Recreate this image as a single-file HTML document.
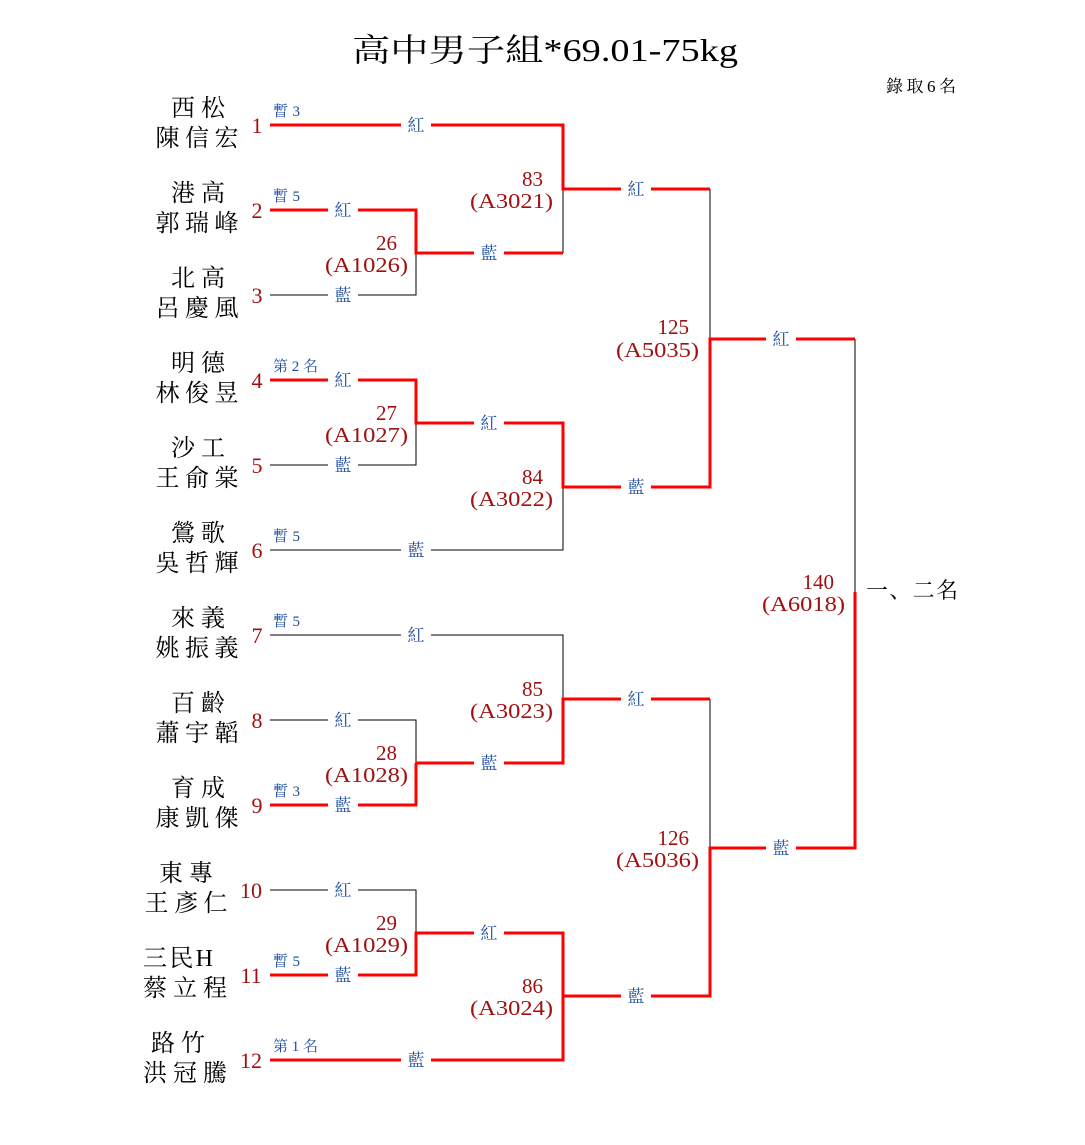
<!DOCTYPE html>
<html><head><meta charset="utf-8"><style>
html,body{margin:0;padding:0;background:#fff}
svg{display:block}
.t{font-family:"Liberation Serif","Noto Serif CJK SC",serif}
.nm{font-size:24px;fill:#000;text-anchor:middle}
.no{font-size:22px;fill:#a01010;text-anchor:middle}
.lb{font-size:17px;fill:#1a4aa0;text-anchor:middle}
.sm{font-size:15px;fill:#1a4aa0}
.mn{font-size:21px;fill:#a01010;text-anchor:end}
.r{stroke:#f00;stroke-width:3;fill:none}
.k{stroke:#000;stroke-width:1;fill:none}
</style></head><body>
<svg width="1085" height="1145" viewBox="0 0 1085 1145" xmlns="http://www.w3.org/2000/svg">
<text class="t" x="352" y="61" font-size="32" textLength="386" lengthAdjust="spacingAndGlyphs">高中男子組*69.01-75kg</text>
<text class="t" x="886" y="92" font-size="17" textLength="70">錄取6名</text>

<g class="k">
<path d="M270 295H416V253"/><path d="M270 465H416V423"/><path d="M270 550H563V487"/>
<path d="M563 189V253"/><path d="M710 189V339"/>
<path d="M270 635H563V699"/><path d="M270 720H416V763"/><path d="M270 890H416V933"/>
<path d="M710 699V848"/><path d="M855 339V592"/>
</g>
<g class="r">
<path d="M270 125H563V189H710"/>
<path d="M270 210H416V253H563"/>
<path d="M270 380H416V423H563V487H710V339H855"/>
<path d="M416 763H563V699H710"/>
<path d="M270 805H416V763"/>
<path d="M270 975H416V933H563V996H710V848H855V592"/>
<path d="M270 1060H563V996"/>
</g>

<g fill="#fff">
<rect x="401" y="114" width="30" height="22"/><rect x="328" y="199" width="30" height="22"/><rect x="328" y="284" width="30" height="22"/>
<rect x="474" y="242" width="30" height="22"/><rect x="621" y="178" width="30" height="22"/>
<rect x="328" y="369" width="30" height="22"/><rect x="328" y="454" width="30" height="22"/><rect x="474" y="412" width="30" height="22"/>
<rect x="401" y="539" width="30" height="22"/><rect x="621" y="476" width="30" height="22"/><rect x="766" y="328" width="30" height="22"/>
<rect x="401" y="624" width="30" height="22"/><rect x="328" y="709" width="30" height="22"/><rect x="328" y="794" width="30" height="22"/>
<rect x="474" y="752" width="30" height="22"/><rect x="621" y="688" width="30" height="22"/>
<rect x="328" y="879" width="30" height="22"/><rect x="328" y="964" width="30" height="22"/><rect x="474" y="922" width="30" height="22"/>
<rect x="401" y="1049" width="30" height="22"/><rect x="621" y="985" width="30" height="22"/><rect x="766" y="837" width="30" height="22"/>
</g>
<g class="t lb">
<text x="416" y="131">紅</text><text x="343" y="216">紅</text><text x="343" y="301">藍</text>
<text x="489" y="259">藍</text><text x="636" y="195">紅</text>
<text x="343" y="386">紅</text><text x="343" y="471">藍</text><text x="489" y="429">紅</text>
<text x="416" y="556">藍</text><text x="636" y="493">藍</text><text x="781" y="345">紅</text>
<text x="416" y="641">紅</text><text x="343" y="726">紅</text><text x="343" y="811">藍</text>
<text x="489" y="769">藍</text><text x="636" y="705">紅</text>
<text x="343" y="896">紅</text><text x="343" y="981">藍</text><text x="489" y="939">紅</text>
<text x="416" y="1066">藍</text><text x="636" y="1002">藍</text><text x="781" y="854">藍</text>
</g>

<g class="t sm">
<text x="273" y="116" textLength="27">暫3</text><text x="273" y="201" textLength="27">暫5</text><text x="273" y="371" textLength="45">第2名</text>
<text x="273" y="541" textLength="27">暫5</text><text x="273" y="626" textLength="27">暫5</text><text x="273" y="796" textLength="27">暫3</text>
<text x="273" y="966" textLength="27">暫5</text><text x="273" y="1051" textLength="45">第1名</text>
</g>

<g class="t no">
<text x="257" y="133">1</text><text x="257" y="218">2</text><text x="257" y="303">3</text>
<text x="257" y="388">4</text><text x="257" y="473">5</text><text x="257" y="558">6</text>
<text x="257" y="643">7</text><text x="257" y="728">8</text><text x="257" y="813">9</text>
<text x="251" y="898">10</text><text x="251" y="983">11</text><text x="251" y="1068">12</text>
</g>

<g class="t nm">
<text x="198" y="116" textLength="54">西松</text><text x="197" y="146" textLength="83">陳信宏</text>
<text x="198" y="201" textLength="54">港高</text><text x="197" y="231" textLength="83">郭瑞峰</text>
<text x="198" y="286" textLength="54">北高</text><text x="197" y="316" textLength="83">呂慶風</text>
<text x="198" y="371" textLength="54">明德</text><text x="197" y="401" textLength="83">林俊昱</text>
<text x="198" y="456" textLength="54">沙工</text><text x="197" y="486" textLength="83">王俞棠</text>
<text x="198" y="541" textLength="54">鶯歌</text><text x="197" y="571" textLength="83">吳哲輝</text>
<text x="198" y="626" textLength="54">來義</text><text x="197" y="656" textLength="83">姚振義</text>
<text x="198" y="711" textLength="54">百齡</text><text x="197" y="741" textLength="83">蕭宇韜</text>
<text x="198" y="796" textLength="54">育成</text><text x="197" y="826" textLength="83">康凱傑</text>
<text x="186" y="881" textLength="54">東專</text><text x="186" y="911" textLength="83">王彥仁</text>
<text x="178" y="966" textLength="70">三民H</text><text x="185" y="996" textLength="84">蔡立程</text>
<text x="178" y="1051" textLength="54">路竹</text><text x="185" y="1081" textLength="84">洪冠騰</text>
</g>

<g class="t mn">
<text x="543" y="186">83</text><text x="553" y="208" textLength="83" lengthAdjust="spacingAndGlyphs">(A3021)</text>
<text x="397" y="250">26</text><text x="408" y="272" textLength="83" lengthAdjust="spacingAndGlyphs">(A1026)</text>
<text x="397" y="420">27</text><text x="408" y="442" textLength="83" lengthAdjust="spacingAndGlyphs">(A1027)</text>
<text x="543" y="484">84</text><text x="553" y="506" textLength="83" lengthAdjust="spacingAndGlyphs">(A3022)</text>
<text x="689" y="334">125</text><text x="699" y="357" textLength="83" lengthAdjust="spacingAndGlyphs">(A5035)</text>
<text x="543" y="696">85</text><text x="553" y="718" textLength="83" lengthAdjust="spacingAndGlyphs">(A3023)</text>
<text x="397" y="760">28</text><text x="408" y="782" textLength="83" lengthAdjust="spacingAndGlyphs">(A1028)</text>
<text x="397" y="930">29</text><text x="408" y="952" textLength="83" lengthAdjust="spacingAndGlyphs">(A1029)</text>
<text x="543" y="993">86</text><text x="553" y="1015" textLength="83" lengthAdjust="spacingAndGlyphs">(A3024)</text>
<text x="689" y="845">126</text><text x="699" y="867" textLength="83" lengthAdjust="spacingAndGlyphs">(A5036)</text>
<text x="834" y="589">140</text><text x="845" y="611" textLength="83" lengthAdjust="spacingAndGlyphs">(A6018)</text>
</g>
<text class="t" x="866" y="598" font-size="22" textLength="92">一、二名</text>
</svg>
</body></html>
